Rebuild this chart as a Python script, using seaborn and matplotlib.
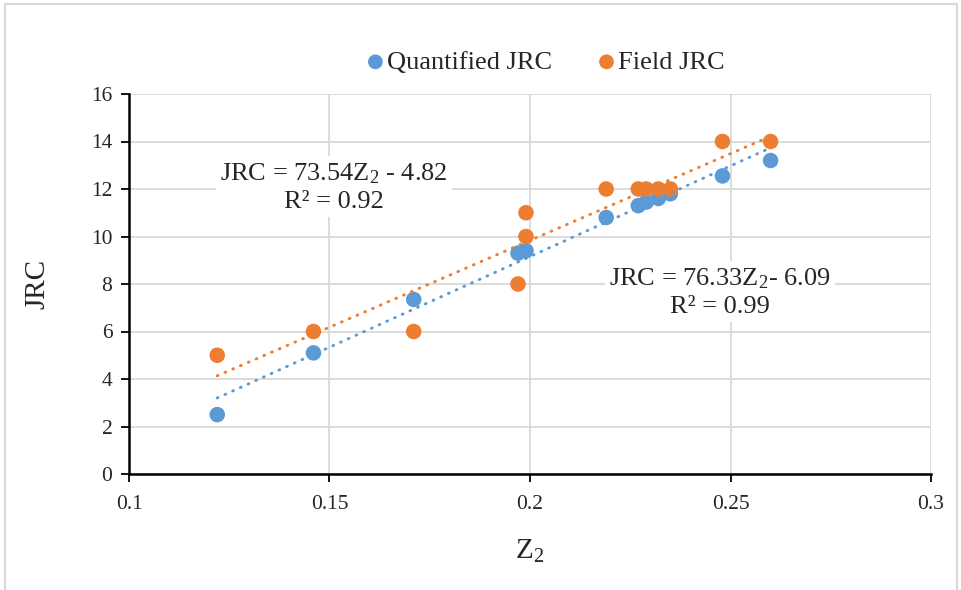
import numpy as np
import pandas as pd
import matplotlib
matplotlib.use("Agg")
import matplotlib.pyplot as plt
import seaborn as sns
from matplotlib.patches import Rectangle

# ---- data ----
z2_quant = [0.122, 0.146, 0.171, 0.197, 0.199, 0.219, 0.227, 0.229, 0.232, 0.235, 0.248, 0.260]
jrc_quant = [2.5, 5.1, 7.35, 9.3, 9.4, 10.8, 11.3, 11.45, 11.6, 11.8, 12.55, 13.2]
z2_field = [0.122, 0.146, 0.171, 0.197, 0.199, 0.199, 0.219, 0.227, 0.229, 0.232, 0.235, 0.248, 0.260]
jrc_field = [5, 6, 6, 8, 10, 11, 12, 12, 12, 12, 12, 14, 14]
x_ticks = [0.1, 0.15, 0.2, 0.25, 0.3]
x_tick_labels = ["0.1", "0.15", "0.2", "0.25", "0.3"]
y_ticks = [0, 2, 4, 6, 8, 10, 12, 14, 16]
series_names = ["Quantified JRC", "Field JRC"]
eq_quant = "JRC = 76.33Z$_2$- 6.09\nR² = 0.99"
eq_field = "JRC = 73.54Z$_2$ - 4.82\nR² = 0.92"

BLUE = "#5B9BD5"
ORANGE = "#ED7D31"

sns.set_style("white")
plt.rcParams["font.family"] = ["Liberation Serif", "DejaVu Serif"]
plt.rcParams["mathtext.fontset"] = "custom"
plt.rcParams["mathtext.rm"] = "Liberation Serif"
plt.rcParams["mathtext.it"] = "Liberation Serif:italic"
plt.rcParams["mathtext.default"] = "regular"

df_q = pd.DataFrame({"Z2": z2_quant, "JRC": jrc_quant})
df_f = pd.DataFrame({"Z2": z2_field, "JRC": jrc_field})

fig = plt.figure(figsize=(9.62, 5.90), dpi=100)
ax = fig.add_axes([129/962, 1-474/590, (931-129)/962, (474-94)/590])

# outer chart frame
fig.patches.append(Rectangle((5/962, -0.01), (957-5)/962, (590-4)/590 + 0.01,
                             transform=fig.transFigure, fill=False,
                             edgecolor="#d9d9d9", linewidth=1.5, zorder=0))

sns.scatterplot(data=df_q, x="Z2", y="JRC", ax=ax, color=BLUE, s=125,
                edgecolor="none", label=series_names[0], zorder=3)
sns.scatterplot(data=df_f, x="Z2", y="JRC", ax=ax, color=ORANGE, s=125,
                edgecolor="none", label=series_names[1], zorder=3)

dot = (0, (0.3, 2.6))
sns.regplot(data=df_q, x="Z2", y="JRC", ax=ax, scatter=False, ci=None, truncate=True,
            line_kws=dict(color=BLUE, linestyle=dot, linewidth=2.1,
                          dash_capstyle="round", zorder=4))
sns.regplot(data=df_f, x="Z2", y="JRC", ax=ax, scatter=False, ci=None, truncate=True,
            line_kws=dict(color=ORANGE, linestyle=dot, linewidth=2.1,
                          dash_capstyle="round", zorder=4))

ax.set_xlim(0.1, 0.3)
ax.set_ylim(0, 16)
ax.set_xticks(x_ticks)
ax.set_xticklabels(x_tick_labels)
ax.set_yticks(y_ticks)
ax.grid(True, color="#d9d9d9", linewidth=1.3)
ax.set_axisbelow(True)
for s in ["top", "right"]:
    ax.spines[s].set_visible(False)
for s in ["left", "bottom"]:
    ax.spines[s].set_color("black")
    ax.spines[s].set_linewidth(1.8)
ax.tick_params(axis="both", direction="out", length=6, width=1.3, color="black",
               labelsize=15.5, left=True, bottom=True)
ax.tick_params(axis="x", pad=9)
ax.tick_params(axis="y", pad=6)
ax.set_xlabel("Z$_2$", fontsize=21, labelpad=17)
ax.set_ylabel("JRC", fontsize=21, labelpad=29)

ax.text(0.1512, 12.08, eq_field, fontsize=19, ha="center", va="center",
        linespacing=1.3, bbox=dict(facecolor="white", edgecolor="none", pad=3), zorder=5)
ax.text(0.2474, 7.66, eq_quant, fontsize=19, ha="center", va="center",
        linespacing=1.3, bbox=dict(facecolor="white", edgecolor="none", pad=3), zorder=5)

leg = ax.legend(loc="center", bbox_to_anchor=(537/962, 1-62/590), bbox_transform=fig.transFigure,
                ncol=2, frameon=False, fontsize=19, handletextpad=-0.55, columnspacing=1.05,
                markerscale=0.95)

fig.savefig("out.png", dpi=100)
